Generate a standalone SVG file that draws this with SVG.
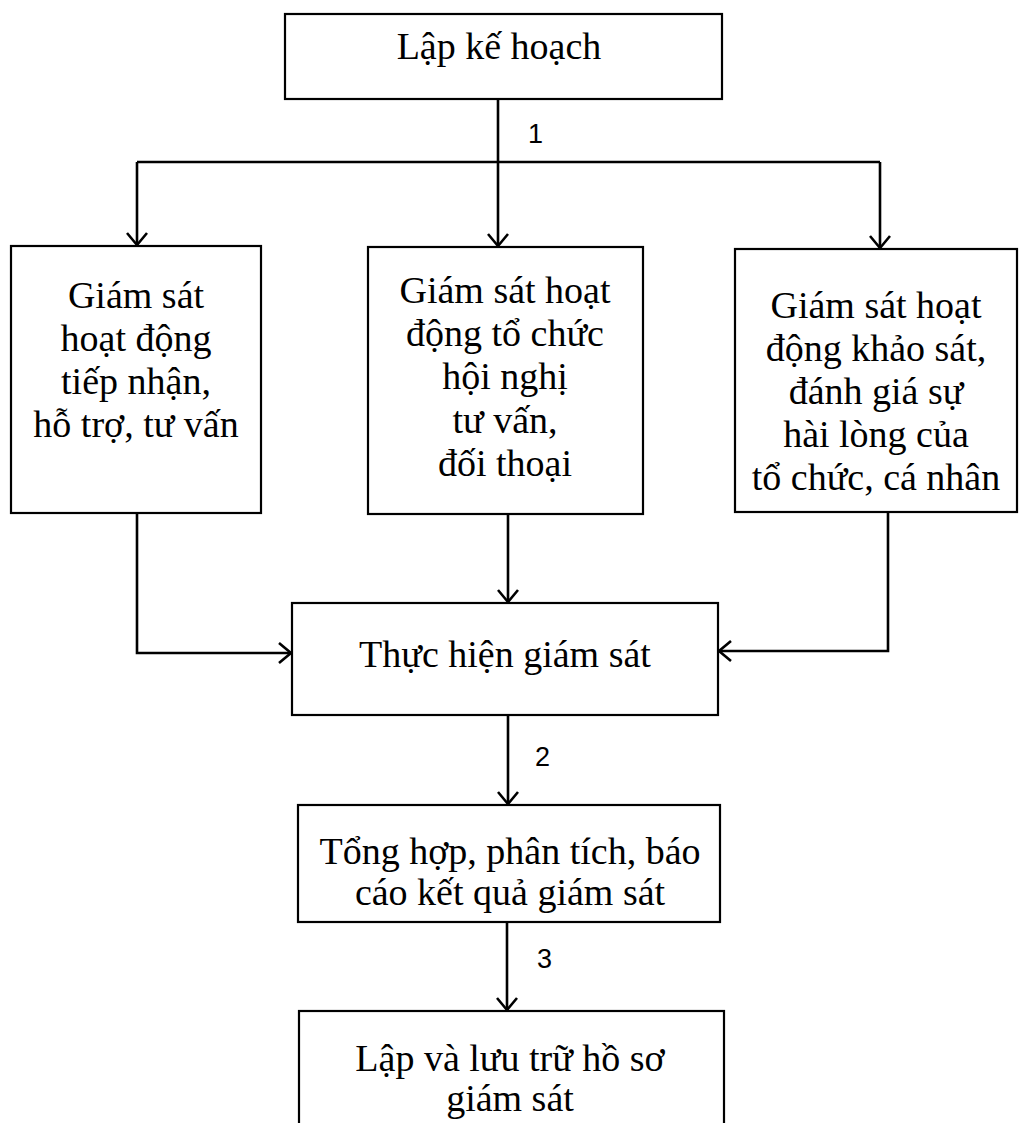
<svg xmlns="http://www.w3.org/2000/svg" width="1020" height="1123" viewBox="0 0 1020 1123">
<style>
.box{fill:#fff;stroke:#000;stroke-width:2.2}
.t{font-family:"Liberation Serif","Times New Roman",serif;font-size:38px;fill:#000;text-anchor:middle}
.c{fill:none;stroke:#000;stroke-width:2.6}
.n{font-family:"Liberation Sans",Arial,sans-serif;font-size:27px;fill:#000}
</style>
<defs>
<marker id="ah" markerWidth="24" markerHeight="24" refX="13" refY="12" orient="auto" markerUnits="userSpaceOnUse" viewBox="0 0 24 24">
<path d="M1,2 L13,12 L1,22" fill="none" stroke="#000" stroke-width="2.6"/>
</marker>
</defs>
<rect width="1020" height="1123" fill="#fff"/>
<g id="connectors">
<line class="c" x1="498" y1="99" x2="498" y2="246" marker-end="url(#ah)"/>
<line class="c" x1="137" y1="162" x2="880" y2="162"/>
<line class="c" x1="137" y1="162" x2="137" y2="245" marker-end="url(#ah)"/>
<line class="c" x1="880" y1="162" x2="880" y2="248" marker-end="url(#ah)"/>
<polyline class="c" points="137,513 137,653 291,653" marker-end="url(#ah)"/>
<line class="c" x1="508" y1="514" x2="508" y2="602" marker-end="url(#ah)"/>
<polyline class="c" points="888,512 888,651 719,651" marker-end="url(#ah)"/>
<line class="c" x1="508" y1="715" x2="508" y2="804" marker-end="url(#ah)"/>
<line class="c" x1="507" y1="922" x2="507" y2="1010" marker-end="url(#ah)"/>
<text class="n" x="528" y="143">1</text>
<text class="n" x="535" y="766">2</text>
<text class="n" x="537" y="968">3</text>
</g>
<g id="lap-ke-hoach">
<rect class="box" x="285" y="14" width="437" height="85"/>
<text class="t" x="499" y="59">Lập kế hoạch</text>
</g>
<g id="gs-tiep-nhan">
<rect class="box" x="11" y="246" width="250" height="267"/>
<text class="t" x="136" y="308">Giám sát</text>
<text class="t" x="136" y="351">hoạt động</text>
<text class="t" x="136" y="394">tiếp nhận,</text>
<text class="t" x="136" y="437">hỗ trợ, tư vấn</text>
</g>
<g id="gs-hoi-nghi">
<rect class="box" x="368" y="247" width="275" height="267"/>
<text class="t" x="505" y="303">Giám sát hoạt</text>
<text class="t" x="505" y="346">động tổ chức</text>
<text class="t" x="505" y="389">hội nghị</text>
<text class="t" x="505" y="433">tư vấn,</text>
<text class="t" x="505" y="476">đối thoại</text>
</g>
<g id="gs-khao-sat">
<rect class="box" x="735" y="249" width="282" height="263"/>
<text class="t" x="876" y="318">Giám sát hoạt</text>
<text class="t" x="876" y="361">động khảo sát,</text>
<text class="t" x="876" y="404">đánh giá sự</text>
<text class="t" x="876" y="447">hài lòng của</text>
<text class="t" x="876" y="490">tổ chức, cá nhân</text>
</g>
<g id="thuc-hien">
<rect class="box" x="292" y="603" width="426" height="112"/>
<text class="t" x="505" y="667">Thực hiện giám sát</text>
</g>
<g id="tong-hop">
<rect class="box" x="298" y="805" width="422" height="117"/>
<text class="t" x="510" y="864">Tổng hợp, phân tích, báo</text>
<text class="t" x="510" y="905">cáo kết quả giám sát</text>
</g>
<g id="luu-tru">
<rect class="box" x="299" y="1011" width="425" height="130"/>
<text class="t" x="510" y="1071">Lập và lưu trữ hồ sơ</text>
<text class="t" x="510" y="1111">giám sát</text>
</g>
</svg>
